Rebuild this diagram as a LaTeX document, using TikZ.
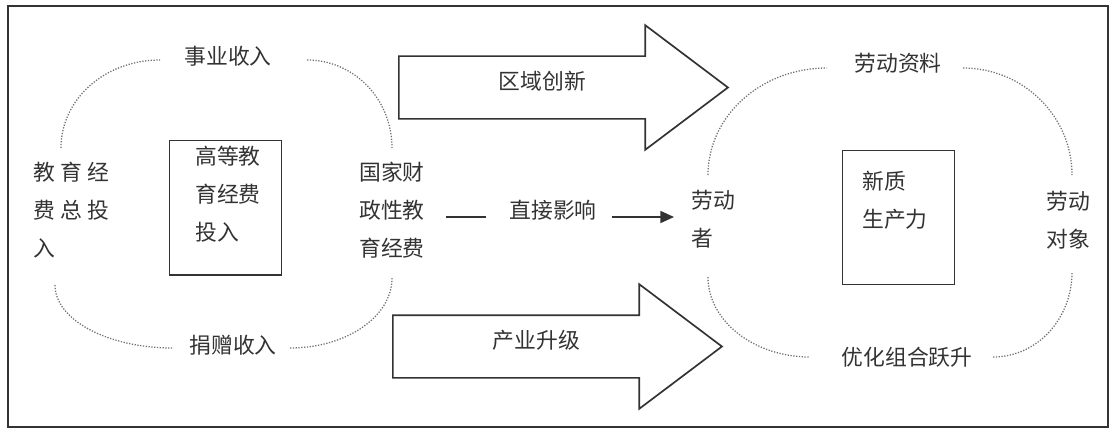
\documentclass[tikz,border=0pt]{standalone}
\usepackage{fontspec}
\setmainfont{Noto Sans CJK SC}
\usetikzlibrary{arrows.meta,shapes.arrows,positioning,calc}
\definecolor{inkgray}{HTML}{333333}
\definecolor{dotgray}{HTML}{707070}

\begin{document}
\begin{tikzpicture}[
    x=0.025cm, y=-0.025cm,
    >={Triangle[length=0.34cm,width=0.3cm]},
    txt/.style={inner sep=0pt, align=left, text=inkgray, font=\fontsize{15.5}{27}\selectfont},
    widetxt/.style={txt, font=\fontsize{15.5}{27}\selectfont\addfontfeature{LetterSpace=25}},
    box/.style={draw=inkgray, line width=1pt, rectangle, minimum width=2.8cm, minimum height=3.36cm, inner sep=0pt},
    bigarrow/.style={draw=inkgray, line width=1.2pt, single arrow, single arrow head extend=0.775cm,
        single arrow tip angle=74, minimum height=8.225cm, inner xsep=0pt, inner ysep=0.3375cm,
        text height=0.48cm, text depth=0.37cm, text=inkgray, font=\fontsize{15.5}{27}\selectfont},
    loopline/.style={dotgray, line width=0.9pt, dash pattern=on 0.9pt off 1.1pt},
    direct/.style={inkgray, line width=1.2pt}
]
    \useasboundingbox (0,0) rectangle (1110,429);
    \draw[inkgray, line width=1.4pt] (8,6) rectangle (1108,427);

    % left loop: funding sources
    \node[widetxt, anchor=west] (zongtouru) at (33,210) {教育经\\费总投\\入};
    \node[txt] (shiye) at (228,56) {事业收入};
    \node[txt] (juanzeng) at (233,345) {捐赠收入};
    \node[txt, anchor=west] (guojia) at (359,210) {国家财\\政性教\\育经费};

    \node[box, anchor=north west] (gaodeng) at (169,140) {};
    \node[txt, anchor=north west] (gaodengtxt) at ($(gaodeng.north west)+(26,6)$) {高等教\\育经费\\投入};

    \draw[loopline] (61,148) .. controls (61,99) and (105,60) .. (160,60);
    \draw[loopline] (307,60) .. controls (354,60) and (392,99) .. (392,148);
    \draw[loopline] (55,285) .. controls (55,320) and (108,348) .. (173,348);
    \draw[loopline] (290,348) .. controls (346,348) and (392,317) .. (392,278);

    % middle: the two paths and the direct effect
    \node[bigarrow, anchor=tail] (chuangxin) at (398,87.5) {区域创新};
    \node[bigarrow, anchor=tail] (chanye) at (392,346.5) {产业升级};

    \node[txt] (zhijie) at (553,210) {直接影响};
    \node[txt, anchor=west] (laodongzhe) at (691,219) {劳动\\者};

    \draw[direct] ($(guojia.east |- zhijie.west)+(21,7)$) -- ($(zhijie.west)+(-23,7)$);
    \draw[direct, ->] ($(zhijie.east)+(15,7)$) -- ($(laodongzhe.west |- zhijie.east)+(-17,7)$);

    % right loop: productive forces
    \node[txt] (ziliao) at (898,63) {劳动资料};
    \node[txt] (youhua) at (907,357) {优化组合跃升};
    \node[txt, anchor=west] (duixiang) at (1046,220) {劳动\\对象};

    \node[box, anchor=north west, minimum width=2.8cm, minimum height=3.35cm] (xinzhi) at (842,150) {};
    \node[txt, anchor=north west] (xinzhitxt) at ($(xinzhi.north west)+(20,21)$) {新质\\生产力};

    \draw[loopline] (708,175) .. controls (708,116) and (761,68) .. (827,68);
    \draw[loopline] (963,68) .. controls (1023,68) and (1072,116) .. (1072,175);
    \draw[loopline] (708,277) .. controls (708,321) and (754,357) .. (810,357);
    \draw[loopline] (993,357) .. controls (1037,357) and (1072,319) .. (1072,272);

\end{tikzpicture}
\end{document}
